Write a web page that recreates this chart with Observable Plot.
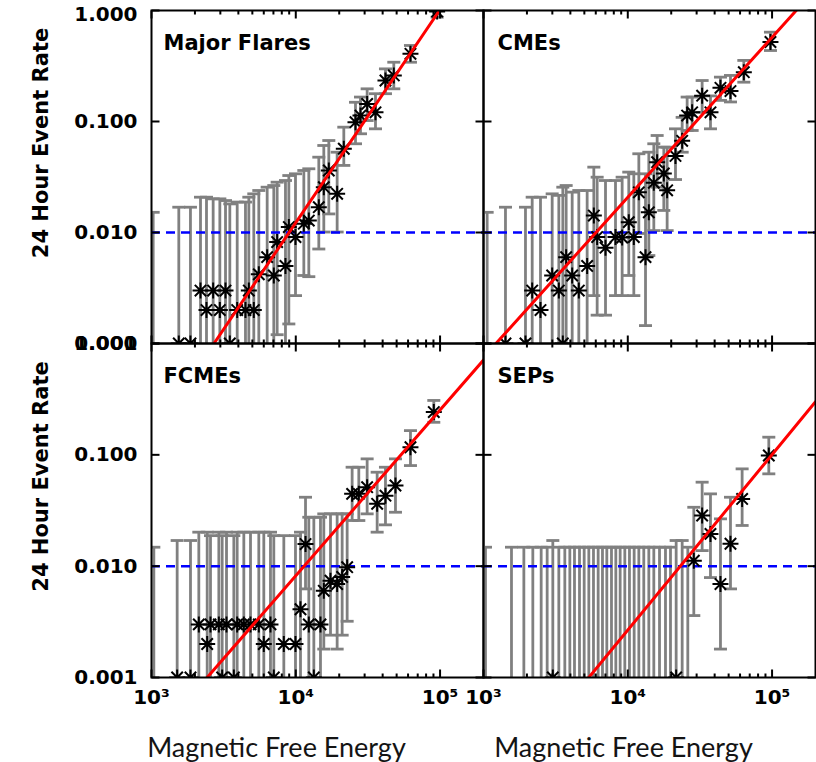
<!DOCTYPE html>
<html>
<head>
<meta charset="utf-8">
<script src="https://cdn.jsdelivr.net/npm/d3@7"></script>
<script src="https://cdn.jsdelivr.net/npm/@observablehq/plot@0.6"></script>
<style>
  body { margin: 0; background: #fff; }
  #chart { position: relative; width: 816px; height: 762px; background: #fff; overflow: hidden; }
  #chart svg { position: absolute; }
</style>
</head>
<body>
<div id="chart"></div>
<script>
// ---------- axes / ticks ----------
const xDomain = [1e3, 2e5];
const yDomain = [1e-3, 1];
const xMajor = [1e3, 1e4, 1e5];
const xMinor = [2e3, 3e3, 4e3, 5e3, 6e3, 7e3, 8e3, 9e3, 2e4, 3e4, 4e4, 5e4, 6e4, 7e4, 8e4, 9e4];
const yMajor = [0.001, 0.01, 0.1, 1];
const threshold = [0.01];
const yAxisTitle = "24 Hour Event Rate";
const xAxisTitle = "Magnetic Free Energy";

// ---------- Major Flares ----------
const flaresEnergy = [1027, 1546, 1862, 2186, 2405, 2675, 2976, 3258, 3490, 3926, 4480, 4727, 5117, 5543, 6334, 7041, 7429, 8482, 8950, 9954, 11370, 12310, 14440, 15640, 16940, 19350, 21520, 25930, 28080, 31230, 35680, 41840, 47790, 62350, 95430];
const flaresRate = [null, 0.001, 0.001, 0.003, 0.002, 0.003, 0.002, 0.003, 0.001, 0.002, 0.002, 0.003, 0.002, 0.0042, 0.006, 0.0041, 0.0082, 0.005, 0.0112, 0.0091, 0.012, 0.0128, 0.0169, 0.0256, 0.0362, 0.0223, 0.0568, 0.0986, 0.113, 0.144, 0.121, 0.234, 0.26, 0.407, 0.98];
const flaresHigh = [0.0152, 0.0169, 0.0169, 0.0208, 0.0208, 0.0201, 0.0201, 0.0194, 0.0181, 0.0188, 0.0188, 0.0208, 0.0223, 0.0239, 0.0256, 0.0265, 0.0284, 0.0294, 0.0326, 0.0338, 0.0362, 0.0375, 0.0477, 0.0608, 0.0674, 0.0529, 0.0889, 0.149, 0.166, 0.197, 0.178, 0.298, 0.342, 0.484, 1.11];
const flaresLow = [0, 0, 0, 0, 0, 0, 0, 0, 0, 0, 0, 0, 0, 0, 0, 0, 0.0012, 0, 0.0015, 0.0027, 0.0041, 0.004, 0.0071, 0.0101, 0.0147, 0.0101, 0.0402, 0.063, 0.0775, 0.102, 0.0859, 0.178, 0.197, 0.342, 0.87];
const flaresFitEnergy = [2710, 99000];
const flaresFitRate = [0.001, 1];

// ---------- CMEs ----------
const cmeEnergy = [1060, 1420, 1954, 2175, 2483, 2992, 3327, 3546, 3740, 4117, 4577, 5229, 5817, 6134, 7008, 8220, 9140, 10160, 11010, 11930, 13270, 13990, 15150, 15980, 17770, 18740, 21410, 23820, 25790, 27930, 32760, 37420, 43890, 51490, 63710, 97480];
const cmeRate = [null, 0.001, 0.001, 0.003, 0.002, 0.0041, 0.003, 0.001, 0.006, 0.0041, 0.003, 0.005, 0.0142, 0.0091, 0.0073, 0.0091, 0.009, 0.0124, 0.0091, 0.023, 0.006, 0.0152, 0.028, 0.043, 0.034, 0.024, 0.049, 0.067, 0.113, 0.121, 0.171, 0.121, 0.201, 0.188, 0.278, 0.52];
const cmeHigh = [0.0152, 0.0169, 0.0169, 0.0208, 0.0208, 0.0223, 0.0216, 0.0256, 0.0265, 0.0231, 0.0239, 0.0239, 0.0388, 0.0315, 0.0294, 0.0294, 0.0315, 0.035, 0.0338, 0.0512, 0.0338, 0.0529, 0.063, 0.0748, 0.0587, 0.0587, 0.0859, 0.109, 0.166, 0.166, 0.234, 0.17, 0.251, 0.26, 0.355, 0.638];
const cmeLow = [0, 0, 0, 0, 0, 0, 0, 0, 0, 0, 0, 0, 0.0027, 0.0018, 0.0018, 0.0027, 0.0027, 0.0041, 0.0027, 0.0098, 0.00145, 0.0062, 0.0104, 0.0256, 0.0158, 0.0104, 0.03, 0.0529, 0.083, 0.083, 0.121, 0.0859, 0.155, 0.15, 0.226, 0.436];
const cmeFitEnergy = [1220, 147000];
const cmeFitRate = [0.001, 1];

// ---------- FCMEs ----------
const fcmeEnergy = [1038, 1506, 1863, 2128, 2432, 2564, 2929, 3089, 3310, 3721, 3924, 4364, 4855, 5543, 6003, 6677, 7042, 8262, 9952, 10780, 11680, 12310, 13340, 14830, 15640, 17400, 19350, 20960, 22700, 24580, 27340, 31230, 36640, 41840, 49080, 62350, 90480];
const fcmeRate = [null, 0.001, 0.001, 0.003, 0.002, 0.003, 0.003, 0.001, 0.003, 0.001, 0.003, 0.003, 0.003, 0.003, 0.002, 0.003, 0.001, 0.002, 0.002, 0.0041, 0.0158, 0.003, 0.001, 0.003, 0.006, 0.0074, 0.0069, 0.008, 0.0098, 0.0446, 0.0446, 0.0512, 0.0363, 0.043, 0.053, 0.117, 0.242];
const fcmeHigh = [0.0148, 0.017, 0.017, 0.0202, 0.0202, 0.0188, 0.0202, 0.0188, 0.0202, 0.0188, 0.0202, 0.0202, 0.0202, 0.0202, 0.0202, 0.0202, 0.0188, 0.0188, 0.0188, 0.0202, 0.0416, 0.0275, 0.0275, 0.0275, 0.0295, 0.0295, 0.0295, 0.0295, 0.0295, 0.0774, 0.0774, 0.092, 0.0698, 0.0774, 0.092, 0.165, 0.308];
const fcmeLow = [0, 0, 0, 0, 0, 0, 0, 0, 0, 0, 0, 0, 0, 0, 0, 0, 0, 0, 0, 0, 0.00625, 0, 0, 0, 0.0018, 0.0024, 0.0018, 0.0024, 0.0032, 0.0257, 0.0257, 0.0295, 0.0202, 0.0235, 0.0305, 0.0801, 0.196];
const fcmeFitEnergy = [2430, 200000];
const fcmeFitRate = [0.001, 0.71];

// ---------- SEPs ----------
const sepEnergy = [1032, 1563, 1904, 2197, 2510, 2762, 3023, 3327, 3661, 3966, 4272, 4627, 4986, 5370, 5784, 6232, 6677, 7156, 7709, 8262, 8853, 9537, 10270, 11070, 11930, 12910, 13990, 15150, 16590, 18250, 19770, 21640, 23820, 26060, 28680, 32760, 37420, 43890, 51490, 62020, 94930];
const sepRate = [null, null, null, null, null, null, 0.001,
  null, null, null, null, null, null, null, null, null, null, null, null,
  null, null, null, null, null, null, null, null, null, null, null, null,
  0.001, null, null,
  0.0112, 0.0285, 0.0195, 0.0069, 0.0159, 0.0402, 0.0986];
const sepHigh = [0.0148, 0.0148, 0.0148, 0.0148, 0.0148, 0.0148, 0.017,
  0.0148, 0.0148, 0.0148, 0.0148, 0.0148, 0.0148, 0.0148, 0.0148, 0.0148, 0.0148, 0.0148, 0.0148,
  0.0148, 0.0148, 0.0148, 0.0148, 0.0148, 0.0148, 0.0148, 0.0148, 0.0148, 0.0148, 0.0148, 0.0148,
  0.017, 0.017, 0.0148,
  0.0338, 0.0568, 0.0446, 0.0266, 0.0416, 0.0748, 0.144];
const sepLow = [0, 0, 0, 0, 0, 0, 0,
  0, 0, 0, 0, 0, 0, 0, 0, 0, 0, 0, 0,
  0, 0, 0, 0, 0, 0, 0, 0, 0, 0, 0, 0,
  0, 0, 0,
  0.0036, 0.0138, 0.0079, 0.0018, 0.00625, 0.0232, 0.0675];
const sepFitEnergy = [5370, 200000];
const sepFitRate = [0.001, 0.30];

// ---------- symbols ----------
const seg = (x1, y1, x2, y2) => ({draw(ctx) { ctx.moveTo(x1, y1); ctx.lineTo(x2, y2); }});
const asterisk = {draw(ctx) {
  const r = 8, d = 5.7;
  ctx.moveTo(-r, 0); ctx.lineTo(r, 0);
  ctx.moveTo(0, -r); ctx.lineTo(0, r);
  ctx.moveTo(-d, -d); ctx.lineTo(d, d);
  ctx.moveTo(-d, d); ctx.lineTo(d, -d);
}};
const capSym = seg(-6.5, 0, 6.5, 0);
const sup = {"0": "⁰", "1": "¹", "2": "²", "3": "³", "4": "⁴", "5": "⁵", "6": "⁶", "7": "⁷", "8": "⁸", "9": "⁹"};
const fmtPow = d => "10" + String(Math.round(Math.log10(d))).split("").map(c => sup[c]).join("");

const FONT = "DejaVu Sans";
const tickText = {fontFamily: FONT, fontWeight: "bold", fontSize: 20, fill: "black"};

function panel(cfg) {
  const floor = yDomain[0] / 3;
  const rows = cfg.energy.map((e, i) => ({e, r: cfg.rate[i], hi: cfg.high[i], lo: cfg.low[i] > 0 ? cfg.low[i] : floor}));
  const pts = rows.filter(d => d.r != null);
  const lowCaps = rows.filter(d => d.lo >= yDomain[0]);
  const fit = cfg.fitE.map((e, i) => ({e, r: cfg.fitR[i]}));
  const marks = [
    Plot.ruleX(rows, {x: "e", y1: "lo", y2: "hi", stroke: "#808080", strokeWidth: 2.8, clip: true}),
    Plot.dot(rows, {x: "e", y: "hi", symbol: capSym, stroke: "#808080", strokeWidth: 2.8, fill: "none", clip: true}),
    Plot.dot(lowCaps, {x: "e", y: "lo", symbol: capSym, stroke: "#808080", strokeWidth: 2.8, fill: "none", clip: true}),
    Plot.ruleY(threshold, {stroke: "#0000ff", strokeWidth: 2.5, strokeDasharray: "9,6"}),
    Plot.dot(pts, {x: "e", y: "r", symbol: asterisk, stroke: "black", strokeWidth: 2, fill: "none", clip: true}),
    Plot.line(fit, {x: "e", y: "r", stroke: "#ff0000", strokeWidth: 3, clip: true}),
    // inward ticks on all four sides
    Plot.dot(xMajor, {x: d => d, frameAnchor: "bottom", symbol: seg(0, 0, 0, -8), stroke: "black", strokeWidth: 2, fill: "none"}),
    Plot.dot(xMinor, {x: d => d, frameAnchor: "bottom", symbol: seg(0, 0, 0, -4), stroke: "black", strokeWidth: 2, fill: "none"}),
    Plot.dot(xMajor, {x: d => d, frameAnchor: "top", symbol: seg(0, 0, 0, 8), stroke: "black", strokeWidth: 2, fill: "none"}),
    Plot.dot(xMinor, {x: d => d, frameAnchor: "top", symbol: seg(0, 0, 0, 4), stroke: "black", strokeWidth: 2, fill: "none"}),
    Plot.dot(yMajor, {y: d => d, frameAnchor: "left", symbol: seg(0, 0, 8, 0), stroke: "black", strokeWidth: 2, fill: "none"}),
    Plot.dot(yMajor, {y: d => d, frameAnchor: "right", symbol: seg(0, 0, -8, 0), stroke: "black", strokeWidth: 2, fill: "none"}),
    Plot.frame({stroke: "black", strokeWidth: 2}),
    Plot.text([cfg.title], {frameAnchor: "top-left", text: d => d, dx: cfg.titleDx, dy: 25, lineAnchor: "top", textAnchor: "start",
      fontFamily: FONT, fontWeight: "bold", fontSize: 21, fill: "black"})
  ];
  if (cfg.showY) {
    const inner = yMajor.filter(d => d < yDomain[1]);
    const topTick = yMajor.filter(d => d >= yDomain[1]);
    marks.push(
      Plot.text(inner, {y: d => d, frameAnchor: "left", text: d => d.toFixed(3), dx: -14, textAnchor: "end", lineAnchor: "middle", ...tickText}),
      Plot.text(topTick, {y: d => d, frameAnchor: "left", text: d => d.toFixed(3), dx: -14, dy: cfg.topLabelDy, textAnchor: "end", lineAnchor: "middle", ...tickText}),
      Plot.text([yAxisTitle], {frameAnchor: "left", text: d => d, rotate: -90, dx: -110, dy: -34,
        textAnchor: "middle", lineAnchor: "middle", ariaLabel: "y-title",
        fontFamily: FONT, fontWeight: "bold", fontSize: 21, fill: "black"})
    );
  }
  if (cfg.showX) {
    marks.push(
      Plot.text(xMajor, {x: d => d, frameAnchor: "bottom", text: fmtPow, dy: 12, lineAnchor: "top", textAnchor: "middle", ...tickText}),
      Plot.text([xAxisTitle], {frameAnchor: "bottom", text: d => d, dx: cfg.labelDx, dy: 71,
        textAnchor: "middle", lineAnchor: "middle",
        fontFamily: "Lato", fontSize: 27, fill: "#141414"})
    );
  }
  const svg = Plot.plot({
    width: cfg.w, height: cfg.h,
    marginLeft: cfg.ml, marginRight: cfg.mr, marginTop: cfg.mt, marginBottom: cfg.mb,
    style: {background: "transparent", overflow: "visible"},
    x: {type: "log", domain: xDomain, axis: null},
    y: {type: "log", domain: yDomain, axis: null},
    marks
  });
  // condensed rotated axis title, like the original narrow lettering
  svg.querySelectorAll('g[aria-label="y-title"] text').forEach(t => {
    t.setAttribute("textLength", "183");
    t.setAttribute("lengthAdjust", "spacingAndGlyphs");
  });
  svg.style.left = cfg.left + "px";
  svg.style.top = cfg.top + "px";
  return svg;
}

const chart = document.getElementById("chart");
const panels = [
  {title: "Major Flares", energy: flaresEnergy, rate: flaresRate, high: flaresHigh, low: flaresLow, fitE: flaresFitEnergy, fitR: flaresFitRate,
   left: 0, top: 0, w: 484, h: 345, ml: 151, mr: 1, mt: 10, mb: 2, showY: true, showX: false, titleDx: 12, topLabelDy: 4},
  {title: "CMEs", energy: cmeEnergy, rate: cmeRate, high: cmeHigh, low: cmeLow, fitE: cmeFitEnergy, fitR: cmeFitRate,
   left: 482, top: 0, w: 334, h: 345, ml: 1, mr: 1, mt: 10, mb: 2, showY: false, showX: false, titleDx: 14},
  {title: "FCMEs", energy: fcmeEnergy, rate: fcmeRate, high: fcmeHigh, low: fcmeLow, fitE: fcmeFitEnergy, fitR: fcmeFitRate,
   left: 0, top: 341, w: 484, h: 421, ml: 151, mr: 1, mt: 2, mb: 85, showY: true, showX: true, titleDx: 12, labelDx: -41, topLabelDy: 0},
  {title: "SEPs", energy: sepEnergy, rate: sepRate, high: sepHigh, low: sepLow, fitE: sepFitEnergy, fitR: sepFitRate,
   left: 482, top: 341, w: 334, h: 421, ml: 1, mr: 1, mt: 2, mb: 85, showY: false, showX: true, titleDx: 14, labelDx: -26}
];
for (const p of panels) chart.append(panel(p));
</script>
</body>
</html>
